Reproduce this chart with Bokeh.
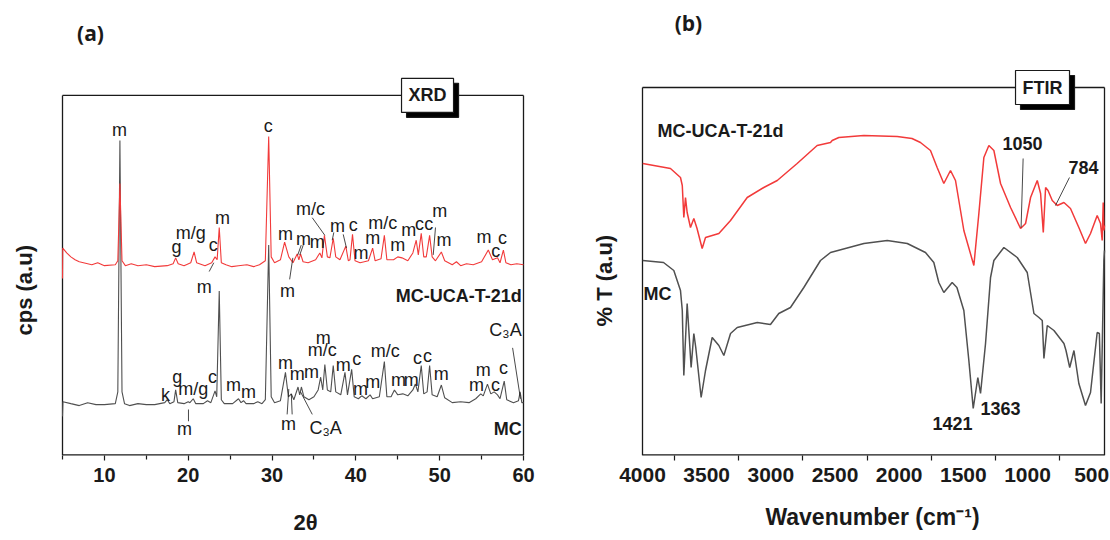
from math import pi
from bokeh.plotting import figure
from bokeh.models import Range1d, Label, FixedTicker, Title
from bokeh.layouts import row
from bokeh.core.properties import value
from bokeh.embed import file_html
from bokeh.resources import INLINE

# ---------------- XRD data (2-theta, cps a.u.) ----------------
two_theta_mc = [5.0, 5.05, 6.0, 7.0, 8.0, 9.0, 10.0, 11.3, 11.6, 11.85, 12.1, 12.4,
                13.0, 14.0, 15.0, 16.0, 17.2, 17.5, 17.8, 18.3, 18.5, 18.75, 19.5, 20.0,
                20.2, 20.6, 20.9, 21.8, 22.3, 22.7, 23.2, 23.4, 23.7, 23.95,
                24.3, 25.3, 26.0, 26.3, 26.6, 26.9, 27.8, 28.3, 28.8, 29.2,
                29.6, 29.9, 30.3, 31.0, 31.6, 31.95, 32.3, 32.6, 33.1, 33.3,
                33.5, 33.8, 34.4, 35.0, 35.5, 35.8, 36.05, 36.3, 36.6, 37.0,
                37.3, 37.6, 38.2, 38.7, 39.0, 39.5, 39.8, 40.3, 40.7, 41.2,
                41.7, 42.0, 42.8, 43.4, 43.7, 44.2, 44.6, 45.0, 45.6, 46.2,
                46.8, 47.1, 47.4, 47.8, 48.1, 48.5, 48.8, 49.1, 49.7, 50.2,
                50.6, 51.5, 52.5, 53.5, 54.3, 54.9, 55.2, 55.7, 56.1, 56.5,
                56.9, 57.2, 57.7, 58.0, 58.8, 59.4, 59.6, 59.8, 60.0]
cps_mc = [40, 55, 53, 51, 54, 52, 52, 53, 65, 322, 65, 53,
          51, 53, 52, 52, 54, 57, 53, 55, 67, 54, 53, 55,
          54, 58, 53, 53, 56, 54, 66, 60, 168, 57,
          53, 53, 58, 54, 56, 53, 53, 55, 53, 57,
          215, 60, 54, 56, 85, 60, 63, 57, 70, 62,
          70, 60, 57, 60, 67, 80, 67, 93, 67, 65,
          92, 65, 62, 85, 62, 88, 60, 58, 61, 58,
          62, 58, 60, 96, 60, 60, 67, 62, 63, 61,
          67, 73, 65, 92, 63, 65, 92, 62, 60, 72,
          59, 54, 55, 54, 58, 63, 61, 73, 63, 65,
          62, 58, 76, 57, 54, 56, 65, 54, 54]

two_theta_uca = [5.0, 5.03, 5.5, 6.0, 6.5, 7.0, 7.5, 8.5, 9.2, 10.0, 11.3,
                 11.6, 11.85, 12.1, 12.5, 13.2, 14.0, 15.0, 16.0, 17.5, 18.2, 18.5, 18.8,
                 19.5, 20.3, 20.7, 21.0, 22.0, 22.8, 23.2, 23.45, 23.7, 23.95,
                 24.5, 25.2, 26.0, 27.0, 27.8, 28.5, 29.2, 29.6, 29.9, 30.3, 31.0, 31.5,
                 32.0, 32.5, 33.0, 33.2, 33.4, 33.7, 34.3, 35.2, 35.7, 35.95,
                 36.25, 36.6, 36.9, 37.3, 37.6, 38.1, 38.8, 39.1, 39.3, 39.6,
                 39.9, 40.5, 41.5, 42.0, 42.3, 43.0, 43.4, 43.7, 44.5, 45.0,
                 45.5, 46.2, 46.8, 47.2, 47.45, 47.8, 48.1, 48.4, 48.8, 49.1,
                 49.5, 50.2, 50.6, 51.5, 52.0, 52.5, 53.2, 54.0, 55.0, 55.8, 56.3,
                 56.6, 56.9, 57.2, 57.6, 57.9, 58.5, 59.2, 60.0]
cps_uca = [181, 212, 207, 203, 200, 198, 197, 195, 197, 194, 195,
           199, 278, 199, 194, 196, 194, 195, 193, 194, 196, 202, 196,
           194, 197, 208, 197, 194, 197, 203, 200, 233, 197,
           195, 193, 194, 195, 193, 195, 199, 326, 203, 197, 200, 218,
           203, 197, 206, 200, 206, 198, 197, 200, 207, 202,
           225, 203, 202, 222, 203, 200, 214, 199, 200, 226,
           199, 197, 199, 212, 199, 201, 225, 200, 200, 203,
           202, 199, 207, 220, 205, 227, 203, 203, 225, 203,
           199, 208, 199, 195, 198, 194, 196, 195, 198, 210, 200,
           201, 202, 197, 210, 197, 195, 196, 195]

# ---------------- FTIR data (wavenumber, %T a.u.) ----------------
wn_uca = [3998, 3782, 3704, 3690, 3678, 3665, 3652, 3626, 3600, 3575,
          3535, 3509, 3405, 3314, 3184, 3055, 2950, 2795, 2639, 2535,
          2522, 2470, 2275, 2015, 1900, 1834, 1756, 1704, 1652, 1600,
          1561, 1496, 1418, 1379, 1340, 1301, 1262, 1210, 1132, 1054,
          1015, 976, 924, 898, 877, 859, 840, 807, 768, 716,
          665, 600, 548, 509, 457, 431, 418, 410, 405, 400]
t_uca = [292, 287, 278, 270, 238, 258, 243, 228, 237, 227,
         207, 218, 222, 235, 258, 268, 275, 292, 310, 313,
         315, 318, 320, 319, 317, 313, 305, 288, 272, 285,
         275, 225, 190, 242, 298, 310, 305, 272, 248, 227,
         232, 258, 275, 262, 223, 268, 265, 255, 250, 253,
         247, 228, 212, 222, 240, 232, 215, 253, 225, 230]

wn_mc = [3998, 3836, 3756, 3704, 3690, 3678, 3652, 3621, 3600, 3585,
         3543, 3509, 3457, 3405, 3366, 3314, 3262, 3106, 3003, 2938,
         2847, 2743, 2613, 2535, 2275, 2093, 1937, 1795, 1730, 1691,
         1652, 1587, 1550, 1496, 1457, 1423, 1387, 1366, 1327, 1288,
         1262, 1184, 1080, 1002, 950, 911, 885, 872, 846, 794,
         716, 700, 671, 638, 600, 548, 509, 457, 440, 426,
         405, 400]
t_mc = [195, 193, 185, 165, 145, 80, 152, 88, 122, 108,
        58, 85, 118, 110, 100, 122, 128, 133, 131, 142,
        148, 168, 195, 203, 212, 215, 212, 203, 193, 173,
        163, 173, 168, 145, 95, 47, 78, 62, 112, 178,
        195, 208, 198, 183, 142, 138, 135, 97, 130, 125,
        112, 105, 88, 105, 72, 50, 63, 123, 122, 52,
        195, 205]

# ---------------- peak annotations ----------------
xrd_lab_text = ["m", "c", "m/c", "m", "g", "m/g", "c", "m", "m", "m",
                "m", "c", "m", "m", "m/c", "m", "m", "c", "c", "m",
                "m", "m", "c", "c", "m", "m",
                "k", "g", "m/g", "c", "m", "m", "m", "m", "m", "m",
                "m/c", "m", "m", "c", "m", "m", "m/c", "m", "m", "c",
                "c", "m", "m", "m", "c", "c", "C\u2083A", "m", "C\u2083A"]
xrd_lab_x = [11.8, 29.55, 34.6, 24.1, 18.6, 20.3, 23.0, 31.6, 33.75, 35.4,
             37.8, 39.7, 40.6, 42.0, 43.2, 45.0, 46.3, 47.6, 48.7, 50.0,
             50.5, 55.3, 56.7, 57.5, 21.9, 31.85,
             17.3, 18.7, 20.6, 22.9, 25.4, 27.2, 19.55, 31.6, 33.0, 34.7,
             36.0, 36.1, 38.5, 40.1, 40.55, 42.0, 43.5, 45.1, 46.6, 47.35,
             48.55, 50.2, 55.2, 54.4, 56.65, 57.6, 57.85, 31.95, 36.4]
xrd_lab_y = [333, 337, 252, 243, 213, 227, 215, 226, 221, 218,
             235, 236, 207, 222, 238, 215, 230, 237, 237, 250,
             220, 223, 209, 222, 172, 168,
             62, 80, 68, 80, 72, 65, 27, 95, 83, 85,
             108, 120, 92, 99, 68, 75, 107, 77, 77, 100,
             102, 83, 87, 72, 72, 89, 128, 32, 28]

xrd_lead_x0 = [34.8, 33.07, 33.31, 37.37, 38.49, 49.5, 22.5, 32.1, 20.03, 31.8, 32.4, 34.8, 58.7]
xrd_lead_y0 = [243, 205, 205, 228, 226, 233, 188, 180, 47, 42, 42, 42, 110]
xrd_lead_x1 = [36.3, 33.48, 33.72, 37.18, 38.88, 49.23, 23.05, 32.48, 20.03, 32.0, 32.3, 33.4, 59.64]
xrd_lead_y1 = [225, 215, 215, 220, 212, 205, 197, 202, 35, 68, 63, 65, 58]

ftir_lab_text = ["1050", "784", "1421", "1363"]
ftir_lab_x = [1039, 564, 1584, 1210]
ftir_lab_y = [312, 288, 32, 47]
ftir_lead_x0 = [1034, 673]
ftir_lead_y0 = [297, 278]
ftir_lead_x1 = [1050, 782]
ftir_lead_y1 = [228, 250]

xrd_ticks = [10, 20, 30, 40, 50, 60]
xrd_minor = [5, 15, 25, 35, 45, 55]
ftir_ticks = [4000, 3500, 3000, 2500, 2000, 1500, 1000, 500]
ftir_minor = [3750, 3250, 2750, 2250, 1750, 1250, 750]

RED = "#f23a3a"
GREY = "#505050"
INK = "#1a1a1a"
SANS = "Liberation Sans"


def base_fig(width, xr, ytop, left, bottom):
    p = figure(width=width, height=540, x_range=xr, y_range=Range1d(0, ytop),
               output_backend="svg", toolbar_location=None, title=None,
               min_border_left=left, min_border_right=0,
               min_border_top=0, min_border_bottom=bottom)
    p.grid.visible = False
    p.yaxis.visible = False
    p.outline_line_color = None
    p.background_fill_color = "white"
    p.border_fill_color = "white"
    ax = p.xaxis[0]
    ax.axis_line_color = None
    ax.major_tick_line_color = INK
    ax.minor_tick_line_color = INK
    ax.major_tick_line_width = 1.2
    ax.minor_tick_line_width = 1.2
    ax.major_tick_in = 0
    ax.minor_tick_in = 0
    ax.major_label_text_font = SANS
    ax.major_label_text_font_style = "bold"
    ax.major_label_text_color = INK
    ax.axis_label_text_font = SANS
    ax.axis_label_text_font_style = "bold"
    ax.axis_label_text_color = INK
    return p


def frame_box(p, x0, x1, ytop):
    p.segment([x0, x1, x0], [0, 0, ytop], [x0, x1, x1], [ytop, ytop, ytop],
              line_color=INK, line_width=1.3)
    p.segment([x0], [0], [x1], [0], line_color=INK, line_width=2.6)


def txt(p, x, y, s, size, bold=False, align="center", angle=0, font=SANS):
    p.text([x], [y], text=[s], text_font=value(font), text_font_size=size,
           text_font_style="bold" if bold else "normal", text_align=align,
           text_baseline="middle", text_color=INK, angle=angle)


def add_box(p, x, y, dx, text):
    for xx, yy, fill, tc in ((x + dx, y - 5, "black", "black"), (x, y, "white", INK)):
        p.add_layout(Label(x=xx, y=yy, text=text, text_font=SANS, text_font_size="18px",
                           text_font_style="bold", text_align="center", text_baseline="middle",
                           text_color=tc, background_fill_color=fill,
                           border_line_color=INK, border_line_width=1.2, padding=7))


def left_title(p, text, offset, standoff):
    p.add_layout(Title(text=text, align="left", offset=offset, text_font=SANS,
                       text_font_size="22px", text_font_style="bold", text_color=INK,
                       standoff=standoff), "left")


# ---------------- panel (a) XRD ----------------
# frame covers px 40..570 of the canvas; 5..60 sits at px 62..523
a_scale = 55 / 461
pa = base_fig(570, Range1d(5 - 22 * a_scale, 60 + 47 * a_scale), 465, 40, 75)
pa.xaxis.ticker = FixedTicker(ticks=xrd_ticks, minor_ticks=xrd_minor)
pa.xaxis.major_tick_out = 5
pa.xaxis.minor_tick_out = 4
pa.xaxis.major_label_text_font_size = "20px"
pa.xaxis.major_label_standoff = 7
pa.xaxis.axis_label = "2\u03b8"
pa.xaxis.axis_label_text_font_size = "22px"
pa.xaxis.axis_label_standoff = 25

frame_box(pa, 5, 60, 368)
pa.line(two_theta_mc, cps_mc, line_color=GREY, line_width=1.1)
pa.line(two_theta_uca, cps_uca, line_color=RED, line_width=1.1)
pa.segment(xrd_lead_x0, xrd_lead_y0, xrd_lead_x1, xrd_lead_y1, line_color=INK, line_width=0.8)
pa.text(xrd_lab_x, xrd_lab_y, text=xrd_lab_text, text_font=value(SANS), text_font_size="18px",
        text_align="center", text_baseline="middle", text_color=INK)
txt(pa, 59.8, 163, "MC-UCA-T-21d", "18px", bold=True, align="right")
txt(pa, 59.8, 27, "MC", "18px", bold=True, align="right")
add_box(pa, 48.55, 368, 0.6, "XRD")
txt(pa, 8.34, 432, "(a)", "21px", bold=True, font="Open Sans")
left_title(pa, "cps (a.u)", 120, 8)

# ---------------- panel (b) FTIR ----------------
# frame covers px 634..1110 of the canvas; 4000..400 sits at px 642..1104
b_scale = 3600 / 462
pb = base_fig(540, Range1d(4000 + 8 * b_scale, 400 - 6 * b_scale), 455, 64, 85)
pb.xaxis.ticker = FixedTicker(ticks=ftir_ticks, minor_ticks=ftir_minor)
pb.xaxis.major_tick_out = 0
pb.xaxis.minor_tick_out = 5
pb.xaxis.major_label_text_font_size = "21px"
pb.xaxis.major_label_standoff = 7
pb.xaxis.axis_label = "Wavenumber (cm\u207b\u00b9)"
pb.xaxis.axis_label_text_font_size = "23px"
pb.xaxis.axis_label_standoff = 19

frame_box(pb, 4000, 400, 368)
pb.line(wn_mc, t_mc, line_color=GREY, line_width=1.5)
pb.line(wn_uca, t_uca, line_color=RED, line_width=1.5)
pb.segment(ftir_lead_x0, ftir_lead_y0, ftir_lead_x1, ftir_lead_y1, line_color=INK, line_width=0.8)
pb.text(ftir_lab_x, ftir_lab_y, text=ftir_lab_text, text_font=value(SANS), text_font_size="18px",
        text_font_style="bold", text_align="center", text_baseline="middle", text_color=INK)
txt(pb, 3883, 325, "MC-UCA-T-21d", "18px", bold=True, align="left")
txt(pb, 3992, 162, "MC", "18px", bold=True, align="left")
add_box(pb, 883, 368, -39, "FTIR")
txt(pb, 3642, 433, "(b)", "21px", bold=True, font="Open Sans")
left_title(pb, "% T (a.u)", 129, 36)

layout = row(pa, pb)
open("out.html", "w").write(file_html(layout, INLINE))
